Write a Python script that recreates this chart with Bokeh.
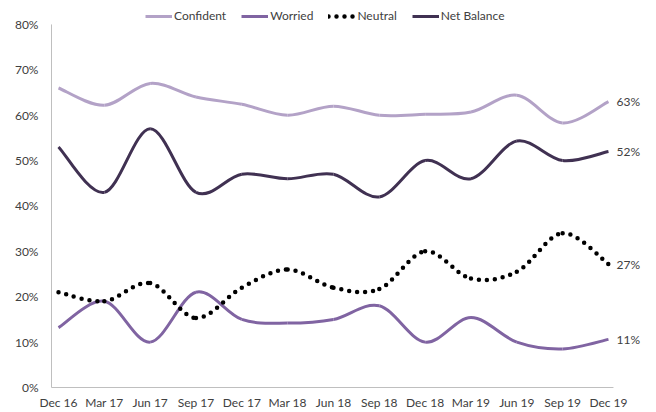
from bokeh.plotting import figure
from bokeh.models import Range1d, FixedTicker, Legend, LegendItem, Label
from bokeh.embed import file_html
from bokeh.resources import INLINE

periods = ["Dec 16", "Mar 17", "Jun 17", "Sep 17", "Dec 17", "Mar 18", "Jun 18",
           "Sep 18", "Dec 18", "Mar 19", "Jun 19", "Sep 19", "Dec 19"]
confident = [66, 62.2, 67, 64, 62.4, 60, 62, 60, 60.2, 60.7, 64.4, 58.3, 63]
worried = [13.2, 19, 10, 21, 15, 14.2, 15, 18, 10, 15.4, 10, 8.5, 10.6]
neutral = [21, 19, 23, 15.3, 22, 26, 22, 21.7, 30, 24, 25.5, 34, 27.2]
net_balance = [53, 43, 57, 43, 47, 46, 47, 42, 50, 46, 54.3, 50, 52]
y_ticks = [0, 10, 20, 30, 40, 50, 60, 70, 80]

FONT = "Lato"
TXT = "#404040"
AXIS = "#BFBFBF"

# plot-area geometry (pixels per unit chosen to match the reference layout)
PX_X = 45.83
PX_Y = 4.55
X0 = -9 / PX_X
X1 = X0 + 601 / PX_X
Y0 = -2 / PX_Y
Y1 = Y0 + 390 / PX_Y
AX_X = -7 / PX_X        # where the vertical axis line sits
AX_END = 12 + 5 / PX_X  # where the horizontal axis line ends

p = figure(width=656, height=412, output_backend="svg", toolbar_location=None,
           x_range=Range1d(X0, X1), y_range=Range1d(Y0, Y1),
           min_border_left=49, min_border_right=6, min_border_top=0, min_border_bottom=22)
p.outline_line_color = None
p.xgrid.visible = False
p.ygrid.visible = False
p.background_fill_color = "white"

idx = list(range(len(periods)))
p.xaxis.ticker = FixedTicker(ticks=idx)
p.xaxis.major_label_overrides = {i: lab for i, lab in zip(idx, periods)}
p.yaxis.ticker = FixedTicker(ticks=y_ticks)
p.yaxis.major_label_overrides = {t: f"{t}%" for t in y_ticks}
for ax in (p.xaxis, p.yaxis):
    ax.axis_line_color = None
    ax.major_tick_line_color = None
    ax.minor_tick_line_color = None
    ax.major_tick_out = 0
    ax.major_tick_in = 0
    ax.major_label_text_font = FONT
    ax.major_label_text_font_size = "12px"
    ax.major_label_text_color = TXT
p.xaxis.major_label_standoff = 5
p.yaxis.major_label_standoff = 11

# axis lines: vertical from 0 to the top tick, horizontal along 0
p.segment(x0=[AX_X, AX_X], y0=[y_ticks[0], y_ticks[0]], x1=[AX_X, AX_END],
          y1=[y_ticks[-1], y_ticks[0]], line_color=AXIS, line_width=1)


def smooth(xs, ys):
    n = len(xs)
    out = dict(x0=[], y0=[], x1=[], y1=[], cx0=[], cy0=[], cx1=[], cy1=[])
    for i in range(n - 1):
        a = i - 1 if i > 0 else i
        d = i + 2 if i + 2 < n else i + 1
        out["x0"].append(xs[i]); out["y0"].append(ys[i])
        out["x1"].append(xs[i + 1]); out["y1"].append(ys[i + 1])
        out["cx0"].append(xs[i] + (xs[i + 1] - xs[a]) / 6)
        out["cy0"].append(ys[i] + (ys[i + 1] - ys[a]) / 6)
        out["cx1"].append(xs[i + 1] - (xs[d] - xs[i]) / 6)
        out["cy1"].append(ys[i + 1] - (ys[d] - ys[i]) / 6)
    return out


series = [
    ("Confident", confident, dict(line_color="#B3A2C7", line_width=3)),
    ("Worried", worried, dict(line_color="#8064A2", line_width=3)),
    ("Neutral", neutral, dict(line_color="black", line_width=4.5, line_dash="0 8", line_cap="round")),
    ("Net Balance", net_balance, dict(line_color="#403152", line_width=3)),
]

items = []
for name, vals, style in series:
    seg = smooth(idx, vals)
    r = p.bezier(x0="x0", y0="y0", x1="x1", y1="y1", cx0="cx0", cy0="cy0",
                 cx1="cx1", cy1="cy1", source=seg, **style)
    items.append(LegendItem(label=name, renderers=[r]))

for name, vals, style in series:
    p.add_layout(Label(x=idx[-1], y=vals[-1], x_offset=8, text=f"{round(vals[-1])}%",
                       text_baseline="middle", text_font=FONT, text_font_size="12px",
                       text_color=TXT))

legend = Legend(items=items, orientation="horizontal", location=(96, 366),
                label_text_font=FONT, label_text_font_size="12px", label_text_color=TXT,
                glyph_width=27, glyph_height=14, label_height=14, label_standoff=2,
                spacing=15, padding=0, margin=0, border_line_alpha=0,
                background_fill_alpha=0)
p.add_layout(legend, "center")

open("out.html", "w").write(file_html(p, INLINE))
